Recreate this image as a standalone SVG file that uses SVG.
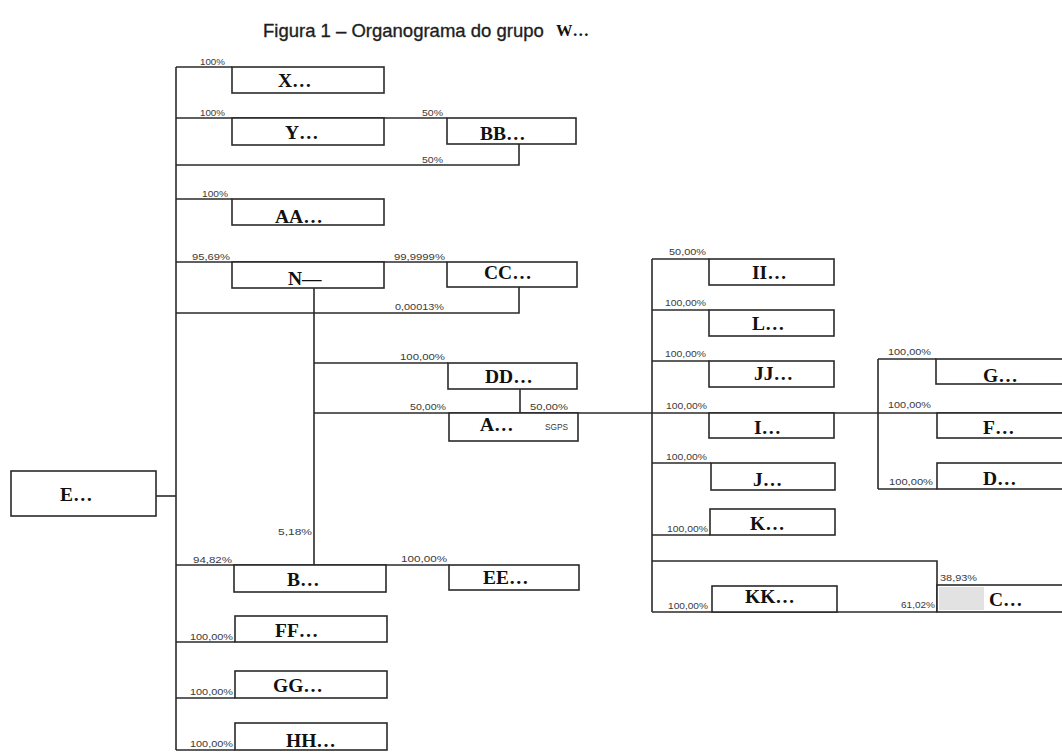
<svg xmlns="http://www.w3.org/2000/svg" width="1062" height="754" viewBox="0 0 1062 754">
<style>
.bg{fill:#ffffff}
.box{fill:#ffffff;stroke:#2a2a2a;stroke-width:1.6}
.ln{fill:none;stroke:#2a2a2a;stroke-width:1.6}
.nm{font-family:"Liberation Serif","Times New Roman",serif;font-weight:bold;font-size:19.5px;fill:#111}
.pc{font-family:"Liberation Sans",Arial,sans-serif;font-size:8.5px;fill:#3a3a3a}
.ti{font-family:"Liberation Sans",Arial,sans-serif;font-size:18.5px;fill:#1e1e1e;stroke:#1e1e1e;stroke-width:0.35}
.tw{font-family:"Liberation Serif","Times New Roman",serif;font-weight:bold;font-size:16.5px;fill:#111}
.hatch{fill:#e2e2e2}
</style>
<rect class="bg" x="0" y="0" width="1062" height="754"/>
<g id="title">
<text class="ti" x="263" y="37">Figura 1 – Organograma do grupo</text>
<text class="tw" x="556" y="36">W…</text>
</g>
<g id="connectors">
<path class="ln" d="M176,67 V750"/>
<path class="ln" d="M176,67 H232"/>
<path class="ln" d="M176,118 H447"/>
<path class="ln" d="M176,165 H519 V144"/>
<path class="ln" d="M176,199 H232"/>
<path class="ln" d="M176,262 H447"/>
<path class="ln" d="M176,313 H519 V287"/>
<path class="ln" d="M156,496 H176"/>
<path class="ln" d="M314,288 V565"/>
<path class="ln" d="M314,363 H448"/>
<path class="ln" d="M314,413 H1064"/>
<path class="ln" d="M520,389 V413"/>
<path class="ln" d="M176,565 H449"/>
<path class="ln" d="M176,642 H235"/>
<path class="ln" d="M176,698 H235"/>
<path class="ln" d="M176,750 H235"/>
<path class="ln" d="M652,259 V612"/>
<path class="ln" d="M652,259 H709"/>
<path class="ln" d="M652,310 H709"/>
<path class="ln" d="M652,361 H709"/>
<path class="ln" d="M652,463 H711"/>
<path class="ln" d="M652,535 H710"/>
<path class="ln" d="M652,561 H937 V612"/>
<path class="ln" d="M652,612 H937"/>
<path class="ln" d="M878,359 V489"/>
<path class="ln" d="M878,359 H936"/>
<path class="ln" d="M878,489 H937"/>
</g>
<g id="labels">
<text class="pc" x="200" y="65" textLength="25" lengthAdjust="spacingAndGlyphs">100%</text>
<text class="pc" x="200" y="116" textLength="25" lengthAdjust="spacingAndGlyphs">100%</text>
<text class="pc" x="422" y="116" textLength="21" lengthAdjust="spacingAndGlyphs">50%</text>
<text class="pc" x="422" y="163" textLength="21" lengthAdjust="spacingAndGlyphs">50%</text>
<text class="pc" x="202" y="197" textLength="26" lengthAdjust="spacingAndGlyphs">100%</text>
<text class="pc" x="192" y="260" textLength="38" lengthAdjust="spacingAndGlyphs">95,69%</text>
<text class="pc" x="394" y="260" textLength="51" lengthAdjust="spacingAndGlyphs">99,9999%</text>
<text class="pc" x="395" y="310" textLength="49" lengthAdjust="spacingAndGlyphs">0,00013%</text>
<text class="pc" x="400" y="360" textLength="45" lengthAdjust="spacingAndGlyphs">100,00%</text>
<text class="pc" x="410" y="410" textLength="36" lengthAdjust="spacingAndGlyphs">50,00%</text>
<text class="pc" x="530" y="410" textLength="38" lengthAdjust="spacingAndGlyphs">50,00%</text>
<text class="pc" x="278" y="535" textLength="34" lengthAdjust="spacingAndGlyphs">5,18%</text>
<text class="pc" x="193" y="563" textLength="39" lengthAdjust="spacingAndGlyphs">94,82%</text>
<text class="pc" x="401" y="562" textLength="46" lengthAdjust="spacingAndGlyphs">100,00%</text>
<text class="pc" x="190" y="640" textLength="43" lengthAdjust="spacingAndGlyphs">100,00%</text>
<text class="pc" x="190" y="695" textLength="43" lengthAdjust="spacingAndGlyphs">100,00%</text>
<text class="pc" x="190" y="747" textLength="43" lengthAdjust="spacingAndGlyphs">100,00%</text>
<text class="pc" x="669" y="255" textLength="37" lengthAdjust="spacingAndGlyphs">50,00%</text>
<text class="pc" x="665" y="306" textLength="41" lengthAdjust="spacingAndGlyphs">100,00%</text>
<text class="pc" x="665" y="357" textLength="41" lengthAdjust="spacingAndGlyphs">100,00%</text>
<text class="pc" x="666" y="409" textLength="41" lengthAdjust="spacingAndGlyphs">100,00%</text>
<text class="pc" x="666" y="460" textLength="41" lengthAdjust="spacingAndGlyphs">100,00%</text>
<text class="pc" x="667" y="532" textLength="41" lengthAdjust="spacingAndGlyphs">100,00%</text>
<text class="pc" x="668" y="609" textLength="40" lengthAdjust="spacingAndGlyphs">100,00%</text>
<text class="pc" x="888" y="355" textLength="43" lengthAdjust="spacingAndGlyphs">100,00%</text>
<text class="pc" x="888" y="408" textLength="43" lengthAdjust="spacingAndGlyphs">100,00%</text>
<text class="pc" x="889" y="485" textLength="44" lengthAdjust="spacingAndGlyphs">100,00%</text>
<text class="pc" x="940" y="581" textLength="37" lengthAdjust="spacingAndGlyphs">38,93%</text>
<text class="pc" x="901" y="608" textLength="34" lengthAdjust="spacingAndGlyphs">61,02%</text>
</g>
<g id="node-E"><rect class="box" x="11" y="471" width="145" height="45"/><text class="nm" x="60" y="501">E…</text></g>
<g id="node-X"><rect class="box" x="232" y="67" width="152" height="26"/><text class="nm" x="278" y="87">X…</text></g>
<g id="node-Y"><rect class="box" x="232" y="118" width="152" height="27"/><text class="nm" x="285" y="139">Y…</text></g>
<g id="node-BB"><rect class="box" x="447" y="118" width="129" height="26"/><text class="nm" x="480" y="140">BB…</text></g>
<g id="node-AA"><rect class="box" x="232" y="199" width="152" height="26"/><text class="nm" x="275" y="223">AA…</text></g>
<g id="node-N"><rect class="box" x="232" y="262" width="152" height="26"/><text class="nm" x="288" y="285">N—</text></g>
<g id="node-CC"><rect class="box" x="447" y="262" width="130" height="25"/><text class="nm" x="484" y="279">CC…</text></g>
<g id="node-DD"><rect class="box" x="448" y="363" width="129" height="26"/><text class="nm" x="485" y="383">DD…</text></g>
<g id="node-A"><rect class="box" x="449" y="413" width="129" height="28"/><text class="nm" x="480" y="431">A…</text><text class="pc" x="545" y="430" textLength="23" lengthAdjust="spacingAndGlyphs">SGPS</text></g>
<g id="node-B"><rect class="box" x="234" y="565" width="152" height="27"/><text class="nm" x="287" y="586">B…</text></g>
<g id="node-EE"><rect class="box" x="449" y="565" width="130" height="25"/><text class="nm" x="483" y="584">EE…</text></g>
<g id="node-FF"><rect class="box" x="235" y="616" width="152" height="26"/><text class="nm" x="275" y="637">FF…</text></g>
<g id="node-GG"><rect class="box" x="235" y="671" width="152" height="27"/><text class="nm" x="273" y="692">GG…</text></g>
<g id="node-HH"><rect class="box" x="235" y="723" width="152" height="27"/><text class="nm" x="286" y="747">HH…</text></g>
<g id="node-II"><rect class="box" x="709" y="259" width="125" height="26"/><text class="nm" x="752" y="279">II…</text></g>
<g id="node-L"><rect class="box" x="709" y="310" width="125" height="26"/><text class="nm" x="752" y="330">L…</text></g>
<g id="node-JJ"><rect class="box" x="709" y="361" width="125" height="26"/><text class="nm" x="754" y="380">JJ…</text></g>
<g id="node-I"><rect class="box" x="709" y="413" width="125" height="25"/><text class="nm" x="754" y="434">I…</text></g>
<g id="node-J"><rect class="box" x="711" y="463" width="124" height="27"/><text class="nm" x="753" y="486">J…</text></g>
<g id="node-K"><rect class="box" x="710" y="509" width="125" height="26"/><text class="nm" x="750" y="530">K…</text></g>
<g id="node-KK"><rect class="box" x="712" y="586" width="125" height="26"/><text class="nm" x="745" y="603">KK…</text></g>
<g id="node-G"><rect class="box" x="936" y="359" width="130" height="25"/><text class="nm" x="983" y="382">G…</text></g>
<g id="node-F"><rect class="box" x="937" y="413" width="129" height="25"/><text class="nm" x="983" y="434">F…</text></g>
<g id="node-D"><rect class="box" x="937" y="463" width="129" height="26"/><text class="nm" x="983" y="485">D…</text></g>
<g id="node-C"><rect class="box" x="937" y="585" width="129" height="27"/><rect class="hatch" x="939" y="587" width="45" height="23"/><text class="nm" x="989" y="606">C…</text></g>
</svg>
